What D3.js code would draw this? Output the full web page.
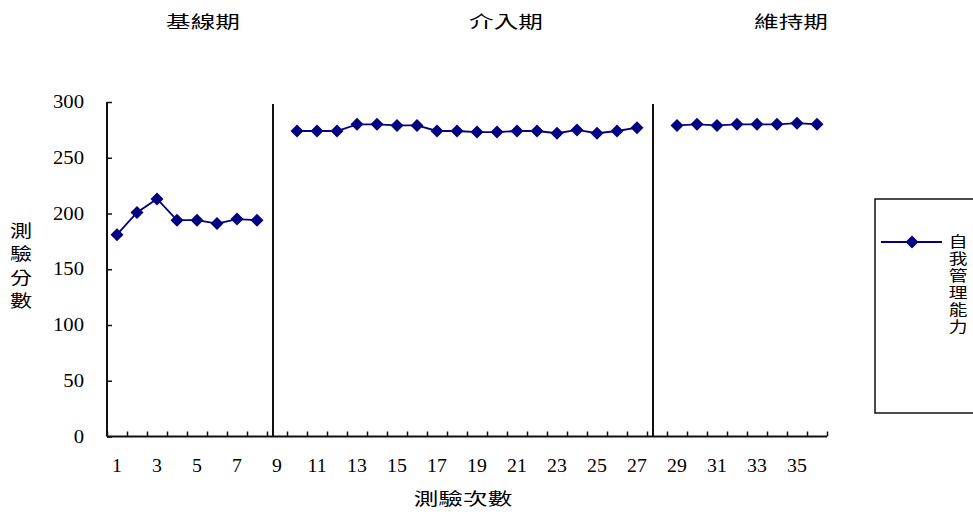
<!DOCTYPE html>
<html>
<head>
<meta charset="utf-8">
<script src="https://cdn.jsdelivr.net/npm/d3@7/dist/d3.min.js"></script>
<style>
  html, body { margin: 0; padding: 0; background: #fff; overflow: hidden; }
  svg { display: block; }
</style>
</head>
<body>
<svg id="chart" width="973" height="515"></svg>
<script>
// Session numbers (categories 1..36); sessions 9 and 28 are empty gaps between phases
const sessions = d3.range(1, 37);
const baseline = [181, 201, 213, 194, 194, 191, 195, 194];                 // sessions 1-8
const intervention = [274, 274, 274, 280, 280, 279, 279, 274, 274,
                      273, 273, 274, 274, 272, 275, 272, 274, 277];       // sessions 10-27
const maintenance = [279, 280, 279, 280, 280, 280, 281, 280];             // sessions 29-36
const phaseNames = ["基線期", "介入期", "維持期"];
const yTicks = [0, 50, 100, 150, 200, 250, 300];
const xTickLabels = sessions.filter(d => d % 2 === 1);
const seriesName = "自我管理能力";
const yTitle = "測驗分數";
const xTitle = "測驗次數";

// Build the full series with gaps where no measurement was taken
const scores = sessions.map(s => {
  if (s <= 8) return baseline[s - 1];
  if (s >= 10 && s <= 27) return intervention[s - 10];
  if (s >= 29) return maintenance[s - 29];
  return null;
});

const svg = d3.select("#chart");
const NAVY = "#000080";
const CJK = "'Noto Sans CJK TC', 'Noto Sans CJK SC', sans-serif";
const NUM = "'Liberation Serif', serif";

const plot = { left: 107, right: 827, top: 102, bottom: 436.5 };

const x = d3.scaleLinear().domain([0.5, 36.5]).range([plot.left, plot.right]);
const y = d3.scaleLinear().domain([0, 300]).range([plot.bottom, plot.top]);

// Text helper: glyphs are drawn a bit wider than normal
function label(g, txt, px, py, opts) {
  const o = Object.assign({ size: 17, sx: 1.45, family: CJK, anchor: "middle", weight: "normal" }, opts || {});
  return g.append("text")
    .attr("transform", `translate(${px},${py}) scale(${o.sx},1)`)
    .attr("text-anchor", o.anchor)
    .attr("dominant-baseline", "central")
    .attr("font-family", o.family)
    .attr("font-size", o.size)
    .attr("font-weight", o.weight)
    .attr("fill", "#000")
    .text(txt);
}

// Vertical (top-to-bottom) text as a single element; px is the column centre
function vlabel(g, txt, px, pyTop, opts) {
  const o = Object.assign({ size: 17, sx: 1.3, spacing: 0 }, opts || {});
  return g.append("text")
    .attr("transform", `translate(${px},${pyTop}) scale(${o.sx},1)`)
    .attr("writing-mode", "vertical-rl")
    .attr("text-anchor", "start")
    .attr("font-family", CJK)
    .attr("font-size", o.size)
    .attr("letter-spacing", o.spacing)
    .attr("fill", "#000")
    .text(txt);
}

// Y axis: line, inward ticks, labels
const yAxis = d3.axisLeft(y).tickValues(yTicks).tickSize(-5).tickFormat("");
svg.append("g")
  .attr("transform", `translate(${plot.left},0)`)
  .call(yAxis)
  .call(g => g.select(".domain").remove())
  .call(g => g.selectAll(".tick line").attr("stroke", "#111").attr("stroke-width", 1.5));
svg.append("line")
  .attr("x1", plot.left).attr("x2", plot.left)
  .attr("y1", y(300)).attr("y2", y(0))
  .attr("stroke", "#111").attr("stroke-width", 2);
const yLab = svg.append("g");
yTicks.forEach(v => label(yLab, String(v), 84, y(v), { family: NUM, size: 18, sx: 1.15, anchor: "end" }));

// X axis: line, inward ticks at category boundaries, odd labels
const xAxis = d3.axisBottom(x).tickValues(d3.range(0.5, 37, 1)).tickSize(-5).tickFormat("");
svg.append("g")
  .attr("transform", `translate(0,${plot.bottom})`)
  .call(xAxis)
  .call(g => g.select(".domain").remove())
  .call(g => g.selectAll(".tick line").attr("stroke", "#111").attr("stroke-width", 1.5));
svg.append("line")
  .attr("x1", x(0.5)).attr("x2", x(36.5))
  .attr("y1", plot.bottom).attr("y2", plot.bottom)
  .attr("stroke", "#111").attr("stroke-width", 2);
const xLab = svg.append("g");
xTickLabels.forEach(v => label(xLab, String(v), x(v), 466, { family: NUM, size: 18, sx: 1.1 }));

// Phase-change lines
[8.8, 27.8].forEach(p => {
  svg.append("line")
    .attr("x1", x(p)).attr("x2", x(p))
    .attr("y1", 104).attr("y2", plot.bottom)
    .attr("stroke", "#111").attr("stroke-width", 2);
});

// Phase titles
const phaseAt = [5.3, 20.45, 34.7];
phaseNames.forEach((n, i) => label(svg, n, x(phaseAt[i]), 20, { size: 17, sx: 1.45 }));

// Axis titles
label(svg, xTitle, 463, 497, { size: 17, sx: 1.45 });
vlabel(svg, yTitle, 21, 222, { size: 17, sx: 1.3, spacing: 6.3 });

// Data line (breaks at empty sessions)
const pts = sessions.map((s, i) => ({ s, v: scores[i] }));
const line = d3.line()
  .defined(d => d.v !== null)
  .x(d => x(d.s))
  .y(d => y(d.v));
svg.append("path")
  .datum(pts)
  .attr("d", line)
  .attr("fill", "none")
  .attr("stroke", NAVY)
  .attr("stroke-width", 1.8);

// Diamond markers
const diamond = "M0,-6.5L6.5,0L0,6.5L-6.5,0Z";
svg.append("g").selectAll("path")
  .data(pts.filter(d => d.v !== null))
  .join("path")
  .attr("d", diamond)
  .attr("transform", d => `translate(${x(d.s)},${y(d.v)})`)
  .attr("fill", NAVY);

// Legend (box runs past the right edge)
const lg = svg.append("g");
lg.append("rect")
  .attr("x", 875).attr("y", 199).attr("width", 130).attr("height", 214)
  .attr("fill", "#fff").attr("stroke", "#111").attr("stroke-width", 1.5);
lg.append("line")
  .attr("x1", 881).attr("x2", 942).attr("y1", 242).attr("y2", 242)
  .attr("stroke", NAVY).attr("stroke-width", 1.8);
lg.append("path").attr("d", diamond).attr("transform", "translate(912,242)").attr("fill", NAVY);
vlabel(lg, seriesName, 958, 234, { size: 15, sx: 1.25, spacing: 2 });
</script>
</body>
</html>
